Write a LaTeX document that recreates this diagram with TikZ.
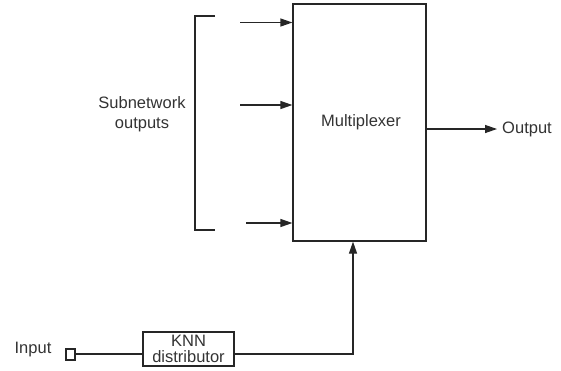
\documentclass[tikz,border=0pt]{standalone}
\usepackage{fontspec}
\setmainfont{Liberation Sans}
\usetikzlibrary{arrows.meta}
\begin{document}
\begin{tikzpicture}[x=1pt,y=-1pt,
  line/.style={line width=1.2pt,draw=black!85},
  arr/.style={line,-{Triangle[length=12pt,width=8pt]}},
  lbl/.style={font=\fontsize{16.5}{19}\selectfont,text=black!80,inner sep=0pt},
  boxed/.style={line,rectangle,inner sep=0pt}]
\useasboundingbox (0,0) rectangle (561,370);
\node[boxed,minimum width=133pt,minimum height=237pt] (mux) at (359.5,122.5) {};
\node[lbl] (muxt) at (361,122) {Multiplexer};
\node[boxed,minimum width=91pt,minimum height=34pt,align=center,lbl,draw=black!85] (knn) at (188.5,349) {KNN\\[-3pt]distributor};
\node[boxed,minimum width=9pt,minimum height=11pt] (sq) at (70.5,354.5) {};
\node[lbl] (inp) at (33,350) {Input};
\node[lbl] (out) at (527,129) {Output};
\node[lbl,align=center] (sub) at (142,114) {Subnetwork\\[1pt]outputs};
\coordinate (b1) at (215,16);
\coordinate (b2) at (195,16);
\coordinate (b3) at (195,230);
\coordinate (b4) at (215,230);
\draw[line] (b1) -- (b2) -- (b3) -- (b4);
\coordinate (s1) at (240,22.5);
\coordinate (s2) at (240,105);
\coordinate (s3) at (246,223);
\draw[arr] (s1) -- (s1 -| mux.west);
\draw[arr] (s2) -- (s2 -| mux.west);
\draw[arr] (s3) -- (s3 -| mux.west);
\coordinate (o1) at (426,129);
\draw[arr] (o1) -- ([xshift=-5pt]out.west);
\coordinate (c1) at (353,354);
\draw[line] (sq.east |- c1) -- (knn.west |- c1);
\draw[arr] (knn.east |- c1) -- (c1) -- (c1 |- mux.south);
\end{tikzpicture}
\end{document}
